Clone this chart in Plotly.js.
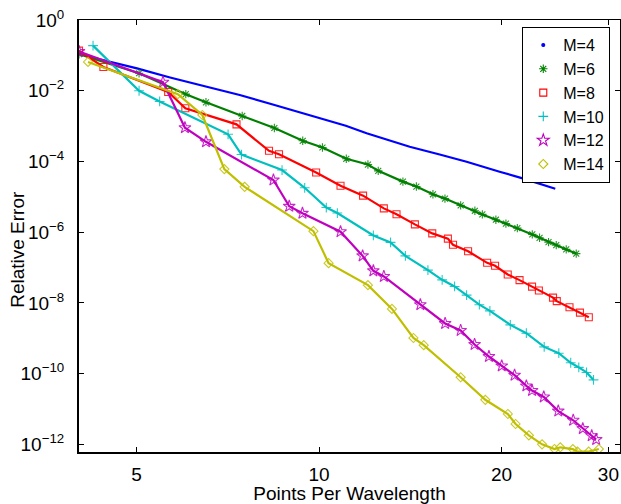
<!DOCTYPE html>
<html>
<head>
<meta charset="utf-8">
<script src="https://cdn.plot.ly/plotly-3.0.1.min.js"></script>
<style>html,body{margin:0;padding:0;background:#fff;}#chart{width:621px;height:504px;}</style>
</head>
<body>
<div id="chart"></div>
<script>
// Data
const seriesNames = ['M=4', 'M=6', 'M=8', 'M=10', 'M=12', 'M=14'];

const m4_x = [4.02, 4.35, 5.01, 5.68, 6.53, 7.40, 8.39, 9.29, 9.95, 10.53, 11.07, 11.98, 12.74, 14.11, 15.81, 17.51, 19.85, 21.66, 24.52];
const m4_y = [1.13e-1, 7.77e-2, 4.27e-2, 2.37e-2, 1.30e-2, 7.59e-3, 4.08e-3, 2.43e-3, 1.69e-3, 1.26e-3, 1.02e-3, 6.25e-4, 4.51e-4, 2.61e-4, 1.57e-4, 9.82e-5, 5.12e-5, 3.33e-5, 1.69e-5];

const m6_x = [4.02, 5.05, 6.03, 6.51, 7.47, 8.44, 9.40, 10.13, 11.09, 12.04, 12.52, 13.75, 14.47, 15.41, 16.13, 17.12, 18.07, 18.59, 19.57, 20.33, 21.23, 22.47, 23.10, 23.90, 24.61, 25.56, 26.55];
const m6_y = [1.08e-1, 3.12e-2, 8.0e-3, 4.71e-3, 1.93e-3, 8.83e-4, 3.84e-4, 2.48e-4, 1.19e-4, 8.18e-5, 5.42e-5, 2.69e-5, 1.95e-5, 1.18e-5, 8.91e-6, 5.73e-6, 4.03e-6, 3.18e-6, 2.25e-6, 1.75e-6, 1.30e-6, 8.65e-7, 6.93e-7, 5.24e-7, 4.31e-7, 3.26e-7, 2.48e-7];

const m8_x = [4.02, 4.41, 5.64, 6.02, 7.31, 8.27, 8.59, 9.89, 10.85, 11.82, 12.79, 13.42, 14.39, 15.37, 16.31, 16.63, 17.61, 18.93, 19.51, 20.47, 21.41, 22.45, 23.04, 24.31, 24.66, 25.88, 26.93, 27.85];
const m8_y = [1.36e-1, 4.70e-2, 9.23e-3, 3.19e-3, 1.12e-3, 2.0e-4, 1.60e-4, 4.85e-5, 2.06e-5, 1.08e-5, 4.71e-6, 3.21e-6, 1.66e-6, 9.23e-7, 6.58e-7, 4.40e-7, 2.88e-7, 1.36e-7, 1.12e-7, 6.38e-8, 4.41e-8, 2.88e-8, 2.25e-8, 1.41e-8, 1.12e-8, 7.57e-9, 5.30e-9, 3.94e-9];

const m10_x = [4.24, 5.05, 5.46, 7.08, 7.45, 8.69, 9.47, 10.28, 10.72, 12.29, 13.12, 13.88, 15.12, 15.96, 16.73, 17.51, 18.38, 19.13, 20.67, 21.97, 23.51, 24.85, 26.0, 26.81, 27.61, 28.35];
const m10_y = [1.89e-1, 1.0e-2, 4.97e-3, 5.86e-4, 1.57e-4, 5.71e-5, 1.80e-5, 4.97e-6, 3.47e-6, 8.11e-7, 5.14e-7, 2.14e-7, 8.45e-8, 4.49e-8, 2.92e-8, 1.66e-8, 8.91e-9, 5.96e-9, 2.39e-9, 1.39e-9, 5.70e-10, 3.78e-10, 2.03e-10, 1.50e-10, 1.08e-10, 6.64e-11];

const m12_x = [4.02, 5.53, 6.01, 6.51, 8.41, 8.93, 9.39, 10.85, 11.80, 12.29, 12.79, 14.69, 16.14, 17.12, 18.05, 19.06, 20.01, 21.01, 21.97, 22.45, 23.47, 24.80, 26.25, 27.22, 28.16, 28.64];
const m12_y = [1.28e-1, 1.74e-2, 9.0e-4, 3.59e-4, 2.98e-5, 5.40e-6, 3.42e-6, 1.03e-6, 2.14e-7, 8.07e-8, 5.60e-8, 8.91e-9, 2.62e-9, 1.66e-9, 6.67e-10, 3.05e-10, 1.65e-10, 9.02e-11, 4.49e-11, 3.33e-11, 2.19e-11, 8.73e-12, 4.80e-12, 2.79e-12, 1.75e-12, 1.37e-12];

const m14_x = [4.16, 5.85, 6.42, 6.98, 7.54, 9.79, 10.37, 12.04, 13.19, 14.31, 14.88, 17.12, 18.80, 20.48, 21.09, 22.18, 23.32, 24.45, 24.99, 26.21, 26.68, 27.84, 28.93];
const m14_y = [6.52e-2, 8.0e-3, 2.06e-3, 6.10e-5, 1.92e-5, 1.07e-6, 1.33e-7, 3.18e-8, 6.78e-9, 1.02e-9, 6.37e-10, 7.91e-11, 1.82e-11, 7.23e-12, 3.77e-12, 1.80e-12, 1.0e-12, 7.40e-13, 8.26e-13, 7.35e-13, 6.24e-13, 6.24e-13, 7.40e-13];

const xTickVals = [5, 10, 20, 30];
const xTickText = ['5', '10', '20', '30'];
const yTickVals = [1, 1e-2, 1e-4, 1e-6, 1e-8, 1e-10, 1e-12];
const yTickText = ['10<sup>0</sup>', '10<sup>\u22122</sup>', '10<sup>\u22124</sup>', '10<sup>\u22126</sup>', '10<sup>\u22128</sup>', '10<sup>\u221210</sup>', '10<sup>\u221212</sup>'];
const xTitle = 'Points Per Wavelength';
const yTitle = 'Relative Error';

// Styling
const FONT = 'Liberation Sans, Arial, Helvetica, sans-serif';
const colors = ['#0000FF', '#008000', '#FF0000', '#00BFBF', '#BF00BF', '#BFBF00'];
const symbols = ['circle', 'asterisk-open', 'square-open', 'cross-thin-open', 'star-open', 'diamond-open'];
const sizes = [3, 7, 7, 7, 9, 7];
const xs = [m4_x, m6_x, m8_x, m10_x, m12_x, m14_x];
const ys = [m4_y, m6_y, m8_y, m10_y, m12_y, m14_y];

const traces = [];
for (let i = 0; i < 6; i++) {
  traces.push({
    x: xs[i], y: ys[i], type: 'scatter',
    mode: i === 0 ? 'lines' : 'lines+markers',
    name: seriesNames[i], showlegend: false,
    line: {color: colors[i], width: 2.2},
    marker: {symbol: symbols[i], size: sizes[i], color: colors[i], opacity: 0.85, line: {color: colors[i], width: 1.1}}
  });
}
// legend entries (markers only, as in the reference)
for (let i = 0; i < 6; i++) {
  traces.push({
    x: [null], y: [null], type: 'scatter', mode: 'markers',
    name: seriesNames[i], showlegend: true,
    marker: {symbol: symbols[i], size: i === 0 ? 3 : sizes[i], color: colors[i], line: {color: colors[i], width: 1.1}}
  });
}
// mirror axes (thin top/right frame with inward ticks)
traces.push({x: [null], y: [null], xaxis: 'x2', yaxis: 'y2', type: 'scatter', mode: 'markers', showlegend: false, hoverinfo: 'skip'});

const xRange = [Math.log10(4.02), Math.log10(31.35)];
const yRange = [-12.216, 0];

const layout = {
  width: 621, height: 504,
  margin: {l: 79, r: 1, t: 20, b: 52},
  paper_bgcolor: '#fff', plot_bgcolor: '#fff',
  font: {family: FONT, color: '#000', size: 19},
  showlegend: true,
  xaxis: {
    type: 'log', range: xRange, tickmode: 'array', tickvals: xTickVals, ticktext: xTickText,
    ticks: 'inside', ticklen: 5, tickwidth: 1, tickcolor: '#000',
    showline: true, linecolor: '#000', linewidth: 2, mirror: false,
    showgrid: false, zeroline: false, tickfont: {size: 19, family: FONT},
    ticklabelstandoff: 4,
    title: {text: xTitle, font: {size: 19, family: FONT}, standoff: 4}
  },
  yaxis: {
    type: 'log', range: yRange, tickmode: 'array', tickvals: yTickVals, ticktext: yTickText,
    ticks: 'inside', ticklen: 5, tickwidth: 1, tickcolor: '#000',
    showline: true, linecolor: '#000', linewidth: 2, mirror: false,
    showgrid: false, zeroline: false, tickfont: {size: 19, family: FONT},
    ticklabelstandoff: 9
  },
  xaxis2: {
    type: 'log', range: xRange, overlaying: 'x', side: 'top', anchor: 'y', tickmode: 'array', tickvals: xTickVals,
    ticks: 'inside', ticklen: 5, tickcolor: '#000', showticklabels: false,
    showline: true, linecolor: '#000', linewidth: 1, showgrid: false, zeroline: false
  },
  yaxis2: {
    type: 'log', range: yRange, overlaying: 'y', side: 'right', anchor: 'x', tickmode: 'array', tickvals: yTickVals,
    ticks: 'inside', ticklen: 5, tickcolor: '#000', showticklabels: false,
    showline: true, linecolor: '#000', linewidth: 1, showgrid: false, zeroline: false
  },
  annotations: [{
    text: yTitle, textangle: -90, showarrow: false,
    xref: 'paper', yref: 'paper', x: -0.113, y: 0.47, xanchor: 'center', yanchor: 'middle',
    font: {size: 19, family: FONT, color: '#000'}
  }],
  legend: {
    x: 0.819, y: 0.984, xanchor: 'left', yanchor: 'top',
    bgcolor: '#fff', bordercolor: '#000', borderwidth: 1.2,
    font: {size: 16, family: FONT}, tracegroupgap: 0, itemwidth: 30
  }
};

Plotly.newPlot('chart', traces, layout, {displayModeBar: false, staticPlot: true});
</script>
</body>
</html>
